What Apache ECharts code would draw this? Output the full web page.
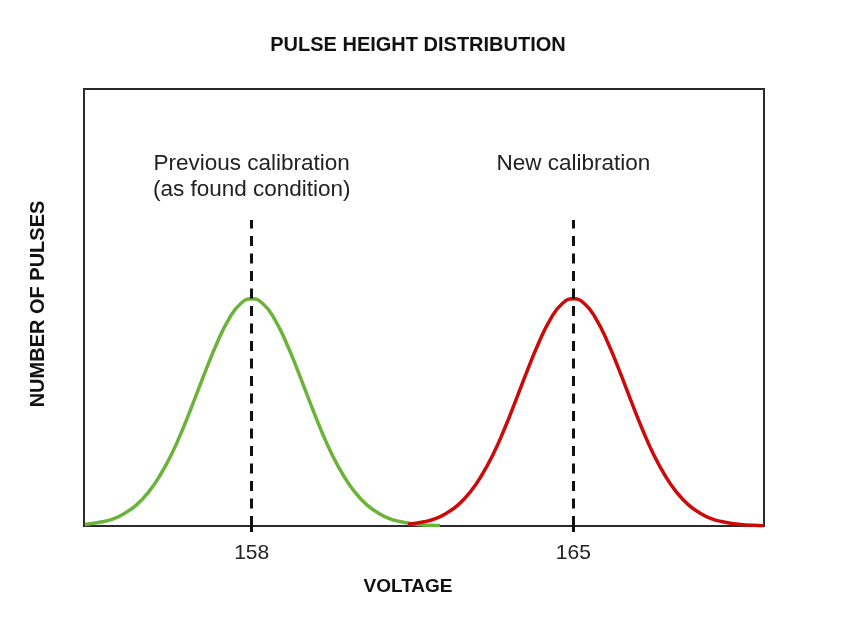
<!DOCTYPE html>
<html>
<head>
<meta charset="utf-8">
<script src="https://cdn.jsdelivr.net/npm/echarts@6/dist/echarts.min.js"></script>
<style>html,body{margin:0;padding:0;background:#fff;}#c{width:849px;height:632px;}</style>
</head>
<body>
<div id="c"></div>
<script>
// Voltage values (x) and relative number of pulses (y)
var prevVoltage = [154.37,154.75,155,155.25,155.5,155.75,156,156.25,156.5,156.75,157,157.25,157.5,157.75,158,158.25,158.5,158.75,159,159.25,159.5,159.75,160,160.25,160.5,160.75,161,161.25,161.5,161.75,162,162.1];
var prevPulses  = [0.36,0.96,1.7,3.0,4.9,7.7,11.5,16.3,22.2,28.8,35.6,42.0,47.3,50.8,52,50.8,47.3,42.0,35.6,28.8,22.2,16.3,11.5,7.7,4.9,3.0,1.7,0.96,0.5,0.25,0.12,0.09];
var newVoltage  = [161.4,161.75,162,162.25,162.5,162.75,163,163.25,163.5,163.75,164,164.25,164.5,164.75,165,165.25,165.5,165.75,166,166.25,166.5,166.75,167,167.25,167.5,167.75,168,168.25,168.5,168.75,169,169.15];
var newPulses   = [0.39,0.96,1.7,3.0,4.9,7.7,11.5,16.3,22.2,28.8,35.6,42.0,47.3,50.8,52,50.8,47.3,42.0,35.6,28.8,22.2,16.3,11.5,7.7,4.9,3.0,1.7,0.96,0.5,0.25,0.12,0.08];
var tickValues  = [158,165];
var prevCenter = 158, newCenter = 165, markTop = 70;
var prevLabel = 'Previous calibration\n(as found condition)';
var newLabel = 'New calibration';

function pairs(xs, ys){ return xs.map(function(x,i){ return [x, ys[i]]; }); }

var FONT = '"Liberation Sans", Arial, Helvetica, sans-serif';
var chart = echarts.init(document.getElementById('c'));
chart.setOption({
  animation: false,
  backgroundColor: '#fff',
  grid: { left: 84, right: 85, top: 89, bottom: 106, show: true, borderColor: '#2a2a2a', borderWidth: 2, backgroundColor: 'transparent' },
  xAxis: {
    type: 'value', min: 154.35, max: 169.15,
    splitLine: { show: false },
    axisLine: { show: true, onZero: false, lineStyle: { color: '#2a2a2a', width: 2 } },
    axisTick: { show: true, customValues: tickValues, length: 6, lineStyle: { color: '#111', width: 3 } },
    axisLabel: { show: true, customValues: tickValues, margin: 17, fontSize: 21, color: '#222', fontFamily: FONT }
  },
  yAxis: {
    type: 'value', min: 0, max: 100,
    show: false, splitLine: { show: false }
  },
  graphic: [
    { type: 'text', x: 418, y: 45, style: { text: 'PULSE HEIGHT DISTRIBUTION', fontSize: 20, fontWeight: 'bold', fontFamily: FONT, fill: '#111', textAlign: 'center', textVerticalAlign: 'middle' } },
    { type: 'text', x: 408, y: 587, style: { text: 'VOLTAGE', fontSize: 19, fontWeight: 'bold', fontFamily: FONT, fill: '#111', textAlign: 'center', textVerticalAlign: 'middle' } },
    { type: 'text', x: 38, y: 304, rotation: Math.PI / 2, style: { text: 'NUMBER OF PULSES', fontSize: 20, fontWeight: 'bold', fontFamily: FONT, fill: '#111', textAlign: 'center', textVerticalAlign: 'middle' } }
  ],
  series: [
    {
      type: 'line', name: 'Previous', data: pairs(prevVoltage, prevPulses),
      smooth: true, showSymbol: false, symbol: 'none',
      lineStyle: { color: '#6cb33a', width: 3.5 }, z: 3,
      markLine: {
        silent: true, symbol: 'none',
        lineStyle: { color: '#111', width: 3, type: [10, 7.5] },
        label: { show: true, position: 'end', formatter: prevLabel, distance: 17, fontSize: 22.5, lineHeight: 26, color: '#222', fontFamily: FONT, align: 'center' },
        data: [[{ coord: [prevCenter, 0] }, { coord: [prevCenter, markTop] }]]
      }
    },
    {
      type: 'line', name: 'New', data: pairs(newVoltage, newPulses),
      smooth: true, showSymbol: false, symbol: 'none',
      lineStyle: { color: '#cc0a0a', width: 3.5 }, z: 4,
      markLine: {
        silent: true, symbol: 'none',
        lineStyle: { color: '#111', width: 3, type: [10, 7.5] },
        label: { show: true, position: 'end', formatter: newLabel, distance: 43, fontSize: 22.5, lineHeight: 26, color: '#222', fontFamily: FONT },
        data: [[{ coord: [newCenter, 0] }, { coord: [newCenter, markTop] }]]
      }
    }
  ]
});
</script>
</body>
</html>
